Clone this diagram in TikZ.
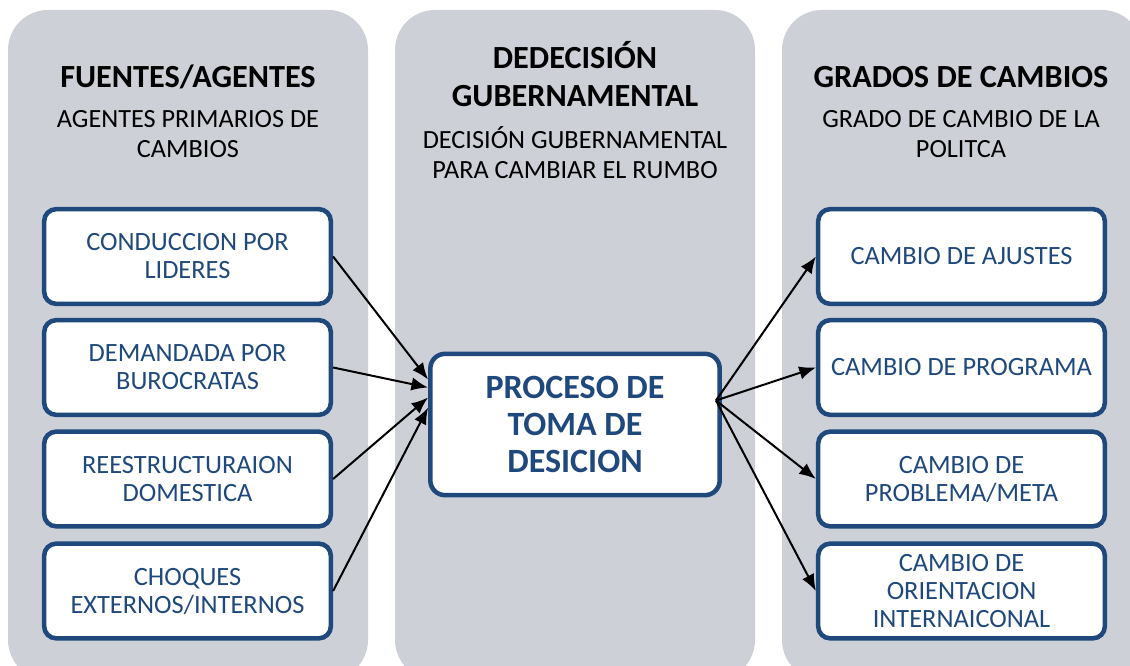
\documentclass[tikz,border=0pt]{standalone}
\usepackage{fontspec}
\setmainfont{Carlito}
\usepackage{tikz}
\usetikzlibrary{arrows.meta,calc}
\definecolor{colgray}{RGB}{205,208,215}
\definecolor{boxblue}{RGB}{31,73,125}

\begin{document}
\begin{tikzpicture}[x=0.75pt,y=0.75pt,yscale=-1,xscale=1,
  column/.style={fill=colgray,draw=none,rounded corners=30pt},
  titletxt/.style={inner sep=0.75pt,align=center,font=\fontsize{24.2}{28}\selectfont\bfseries},
  subtxt/.style={inner sep=0.75pt,align=center,font=\fontsize{19.7}{22.5}\selectfont},
  agentbox/.style={draw=boxblue,line width=3.4pt,fill=white,rounded corners=9pt,
    minimum width=215pt,minimum height=71pt,align=center,text=boxblue,
    font=\fontsize{19.8}{21}\selectfont},
  procbox/.style={draw=boxblue,line width=3.4pt,fill=white,rounded corners=11pt,
    minimum width=217pt,minimum height=106pt,align=center,text=boxblue,
    font=\fontsize{25.5}{28}\selectfont\bfseries},
  flow/.style={line width=1.5pt,-{Latex[length=12.5pt,width=10pt]}}]
\useasboundingbox (0,0) rectangle (1130,666);
\clip (0,0) rectangle (1130,666);

%Shape: Columns
\path[column] (8,10) rectangle (368,680);
\path[column] (395,10) rectangle (755,680);
\path[column] (782,10) rectangle (1142,680);

% Text Node
\node[titletxt] (t1) at (188,77) {FUENTES/AGENTES};
\node[subtxt] (s1) at (188,134) {AGENTES PRIMARIOS DE\\CAMBIOS};
\node[titletxt] (t2) at (575,74) {DEDECISIÓN\\GUBERNAMENTAL};
\node[subtxt] (s2) at (575,153) {DECISIÓN GUBERNAMENTAL\\PARA CAMBIAR EL RUMBO};
\node[titletxt] (t3) at (961,77) {GRADOS DE CAMBIOS};
\node[subtxt] (s3) at (961,134) {GRADO DE CAMBIO DE LA\\POLITCA};

%Shape: Agent boxes
\node[agentbox] (a1) at (187.5,256.5) {CONDUCCION POR\\LIDERES};
\node[agentbox] (a2) at (187.5,367.5) {DEMANDADA POR\\BUROCRATAS};
\node[agentbox] (a3) at (187.5,479) {REESTRUCTURAION\\DOMESTICA};
\node[agentbox] (a4) at (187.5,591) {CHOQUES\\EXTERNOS/INTERNOS};

%Shape: Process box
\node[procbox] (proc) at (575,424.5) {PROCESO DE\\TOMA DE\\DESICION};

%Shape: Change boxes
\node[agentbox] (c1) at (961.5,256.5) {CAMBIO DE AJUSTES};
\node[agentbox] (c2) at (961.5,367.5) {CAMBIO DE PROGRAMA};
\node[agentbox] (c3) at (961.5,479) {CAMBIO DE\\PROBLEMA/META};
\node[agentbox] (c4) at (961.5,591) {CAMBIO DE\\ORIENTACION\\INTERNAICONAL};

% Arrows in
\draw[flow] (a1.east) -- ($(proc.west)+(0,-45)$);
\draw[flow] (a2.east) -- ($(proc.west)+(0,-37)$);
\draw[flow] (a3.east) -- ($(proc.west)+(0,-27)$);
\draw[flow] (a4.east) -- ($(proc.west)+(0,-17)$);

% Arrows out
\coordinate (out) at ($(proc.east)+(-6,-24)$);
\draw[flow] (out) -- (c1.west);
\draw[flow] (out) -- (c2.west);
\draw[flow] (out) -- (c3.west);
\draw[flow] (out) -- (c4.west);

\end{tikzpicture}
\end{document}
